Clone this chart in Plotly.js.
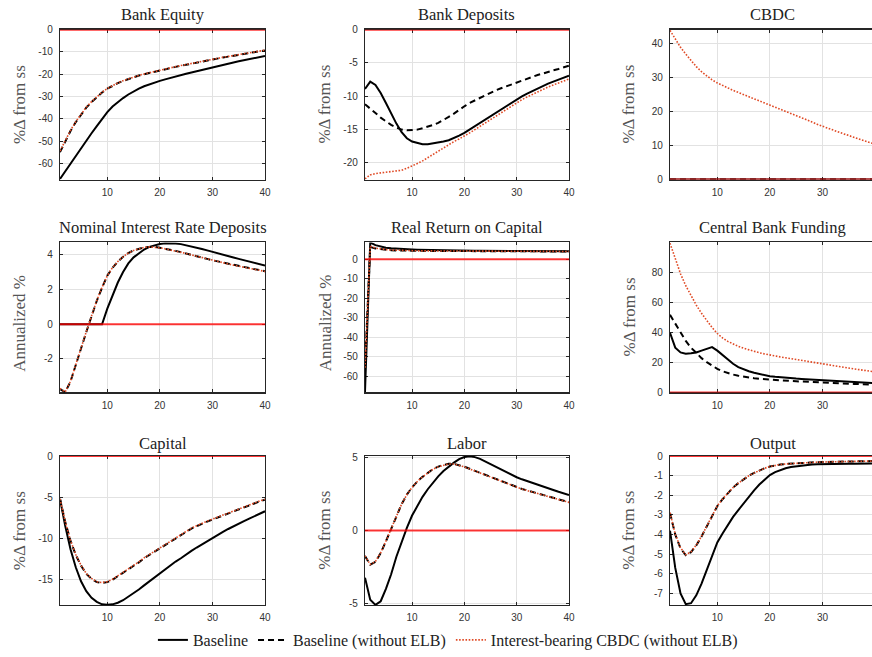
<!DOCTYPE html>
<html>
<head>
<meta charset="utf-8">
<script src="https://cdn.plot.ly/plotly-3.0.1.min.js"></script>
<style>
html,body{margin:0;padding:0;overflow:hidden;background:#fff;}
#chart{width:880px;height:657px;}
#chart .cartesianlayer .plot{clip-path:none !important;}
</style>
</head>
<body>
<div id="chart"></div>
<script>
// ---------- DATA ----------
const periods = [1,2,3,4,5,6,7,8,9,10,11,12,13,14,15,16,17,18,19,20,21,22,23,24,25,26,27,28,29,30,31,32,33,34,35,36,37,38,39,40];
const seriesNames = ["Baseline", "Baseline (without ELB)", "Interest-bearing CBDC (without ELB)"];
const panelTitles = ["Bank Equity","Bank Deposits","CBDC","Nominal Interest Rate Deposits","Real Return on Capital","Central Bank Funding","Capital","Labor","Output"];
const yTitles = ["%Δ from ss","%Δ from ss","%Δ from ss","Annualized %","Annualized %","%Δ from ss","%Δ from ss","%Δ from ss","%Δ from ss"];
const zeroLineX = [1, 40];
const zeroLineY = [0, 0];
const xTickVals = [10,20,30,40];
const xTickText = ["10","20","30","40"];

// Bank Equity
const equityBase = [-67,-63.5,-60,-56.5,-53,-49.5,-46.5,-43.3,-40.1,-37,-34.5,-32.5,-30.7,-29.1,-27.7,-26.5,-25.4,-24.5,-23.7,-23.0,-22.3,-21.6,-21.0,-20.4,-19.8,-19.2,-18.6,-18.0,-17.4,-16.8,-16.3,-15.8,-15.2,-14.7,-14.2,-13.7,-13.2,-12.7,-12.2,-11.8];
const equityNoElb = [-55,-50,-45.5,-41.5,-38,-35,-32.5,-30.3,-28.2,-26.5,-25.1,-24,-23,-22.1,-21.3,-20.6,-20,-19.4,-18.8,-18.2,-17.7,-17.2,-16.7,-16.2,-15.7,-15.2,-14.7,-14.2,-13.7,-13.3,-12.9,-12.5,-12.1,-11.7,-11.3,-10.9,-10.5,-10.1,-9.7,-9.3];
const equityCbdc = [-54.5,-49.6,-45.2,-41.3,-37.8,-34.8,-32.3,-30.1,-28.1,-26.4,-25.0,-23.9,-22.9,-22.0,-21.2,-20.5,-19.9,-19.3,-18.7,-18.1,-17.6,-17.1,-16.6,-16.1,-15.6,-15.1,-14.6,-14.1,-13.6,-13.2,-12.8,-12.4,-12.0,-11.6,-11.2,-10.8,-10.4,-10.0,-9.6,-9.2];
const equityTicks = [-60,-50,-40,-30,-20,-10,0];
const equityTickText = ["-60","-50","-40","-30","-20","-10","0"];

// Bank Deposits
const depositsBase = [-8.9,-7.8,-8.3,-9.5,-11.0,-12.6,-14.1,-15.4,-16.3,-16.8,-17.0,-17.2,-17.2,-17.1,-17.0,-16.8,-16.6,-16.3,-15.9,-15.5,-15.0,-14.5,-14.0,-13.5,-13.0,-12.5,-12.0,-11.4,-10.9,-10.4,-10.0,-9.6,-9.2,-8.8,-8.5,-8.1,-7.8,-7.5,-7.2,-6.9];
const depositsNoElb = [-11.2,-11.8,-12.5,-13.2,-13.8,-14.3,-14.7,-15.0,-15.1,-15.1,-15.0,-14.8,-14.6,-14.3,-14.0,-13.6,-13.1,-12.6,-12.0,-11.5,-11.0,-10.6,-10.2,-9.8,-9.5,-9.1,-8.8,-8.5,-8.2,-7.9,-7.6,-7.3,-7.1,-6.8,-6.6,-6.3,-6.1,-5.9,-5.6,-5.4];
const depositsCbdc = [-22.4,-21.8,-21.6,-21.5,-21.5,-21.4,-21.3,-21.1,-20.8,-20.5,-20.1,-19.7,-19.2,-18.7,-18.2,-17.7,-17.2,-16.8,-16.4,-16.0,-15.5,-15.0,-14.5,-14.0,-13.5,-13.0,-12.5,-12.0,-11.4,-10.9,-10.5,-10.1,-9.7,-9.3,-9.0,-8.6,-8.3,-8.0,-7.7,-7.4];
const depositsTicks = [-20,-15,-10,-5,0];
const depositsTickText = ["-20","-15","-10","-5","0"];

// CBDC
const cbdcBase = [0,0,0,0,0,0,0,0,0,0,0,0,0,0,0,0,0,0,0,0,0,0,0,0,0,0,0,0,0,0,0,0,0,0,0,0,0,0,0,0];
const cbdcNoElb = [0,0,0,0,0,0,0,0,0,0,0,0,0,0,0,0,0,0,0,0,0,0,0,0,0,0,0,0,0,0,0,0,0,0,0,0,0,0,0,0];
const cbdcCbdc = [44,41.5,39,37,35,33.3,31.8,30.5,29.4,28.5,27.7,27.0,26.3,25.7,25.0,24.4,23.8,23.2,22.6,22.0,21.4,20.8,20.2,19.5,18.9,18.3,17.6,17.0,16.3,15.7,15.1,14.6,14.0,13.5,13.0,12.4,11.9,11.4,10.9,10.5];
const cbdcTicks = [0,10,20,30,40];
const cbdcTickText = ["0","10","20","30","40"];

// Nominal Interest Rate Deposits
const nominalBase = [0,0,0,0,0,0,0,0,0,0.9,1.7,2.4,3.0,3.5,3.85,4.1,4.3,4.45,4.55,4.62,4.66,4.67,4.65,4.61,4.55,4.48,4.41,4.33,4.25,4.16,4.08,4.0,3.92,3.84,3.76,3.68,3.61,3.53,3.46,3.38];
const nominalNoElb = [-3.73,-3.92,-3.3,-2.4,-1.4,-0.45,0.5,1.35,2.1,2.8,3.25,3.6,3.88,4.1,4.25,4.35,4.42,4.45,4.45,4.40,4.35,4.29,4.22,4.15,4.08,4.00,3.92,3.84,3.76,3.68,3.61,3.54,3.48,3.41,3.35,3.29,3.23,3.17,3.11,3.05];
const nominalCbdc = [-3.7,-3.9,-3.28,-2.38,-1.38,-0.43,0.52,1.37,2.12,2.8,3.26,3.61,3.88,4.1,4.25,4.35,4.42,4.45,4.44,4.40,4.34,4.28,4.21,4.14,4.07,3.99,3.91,3.83,3.75,3.67,3.60,3.53,3.47,3.40,3.34,3.28,3.22,3.16,3.10,3.04];
const nominalTicks = [-2,0,2,4];
const nominalTickText = ["-2","0","2","4"];

// Real Return on Capital
const returnBase = [-68,8.6,7.3,6.5,6.0,5.7,5.45,5.3,5.15,5.05,4.95,4.87,4.8,4.74,4.69,4.65,4.61,4.58,4.55,4.52,4.49,4.46,4.44,4.42,4.4,4.38,4.36,4.34,4.32,4.3,4.28,4.26,4.24,4.22,4.2,4.18,4.16,4.14,4.12,4.1];
const returnNoElb = [-55,6.3,5.6,5.2,4.9,4.7,4.6,4.5,4.45,4.4,4.37,4.34,4.32,4.3,4.28,4.27,4.26,4.25,4.24,4.23,4.22,4.21,4.2,4.19,4.18,4.17,4.16,4.15,4.14,4.13,4.12,4.11,4.1,4.09,4.08,4.07,4.06,4.05,4.04,4.03];
const returnCbdc = [-55.5,6.7,5.8,5.3,5.0,4.8,4.65,4.55,4.48,4.42,4.38,4.35,4.33,4.31,4.29,4.28,4.27,4.26,4.25,4.24,4.23,4.22,4.21,4.2,4.19,4.18,4.17,4.16,4.15,4.14,4.13,4.12,4.11,4.1,4.09,4.08,4.07,4.06,4.05,4.04];
const returnTicks = [-60,-50,-40,-30,-20,-10,0];
const returnTickText = ["-60","-50","-40","-30","-20","-10","0"];

// Central Bank Funding
const fundingBase = [40,30,26.8,26,26.2,26.8,28,29.3,30.4,28,25,21.8,19.2,17,15.4,14.2,13.2,12.3,11.5,10.9,10.5,10.1,9.8,9.5,9.3,9.1,8.9,8.7,8.5,8.3,8.1,7.9,7.7,7.5,7.3,7.1,6.9,6.7,6.5,6.3];
const fundingNoElb = [52,46,40,34.5,30,26.3,23,20.3,17.8,15.8,14.2,13.0,12.0,11.2,10.5,10.0,9.5,9.1,8.8,8.5,8.3,8.1,7.9,7.7,7.5,7.3,7.15,7.0,6.85,6.7,6.55,6.4,6.2,6.05,5.9,5.75,5.6,5.45,5.3,5.15];
const fundingCbdc = [100,89,79.5,71.5,64.5,58.5,53,48,43.5,39.5,36.5,34.2,32.4,30.9,29.6,28.5,27.5,26.6,25.8,25.0,24.4,23.8,23.2,22.6,22.0,21.4,20.8,20.2,19.5,18.9,18.4,17.9,17.4,16.9,16.3,15.8,15.3,14.8,14.3,13.8];
const fundingTicks = [0,20,40,60,80];
const fundingTickText = ["0","20","40","60","80"];

// Capital
const capitalBase = [-5.2,-8.5,-11.3,-13.5,-15.2,-16.4,-17.2,-17.7,-18.0,-18.05,-18.0,-17.8,-17.5,-17.1,-16.7,-16.2,-15.7,-15.2,-14.7,-14.2,-13.7,-13.3,-12.8,-12.4,-11.9,-11.5,-11.1,-10.7,-10.3,-9.9,-9.55,-9.2,-8.85,-8.5,-8.2,-7.9,-7.6,-7.3,-7.0,-6.7];
const capitalNoElb = [-5.2,-8.0,-10.3,-12.0,-13.3,-14.3,-14.9,-15.3,-15.4,-15.3,-15.0,-14.6,-14.2,-13.8,-13.3,-12.9,-12.4,-12.0,-11.5,-11.1,-10.7,-10.3,-9.9,-9.5,-9.1,-8.8,-8.5,-8.2,-7.95,-7.7,-7.45,-7.2,-6.95,-6.7,-6.45,-6.2,-5.95,-5.7,-5.5,-5.3];
const capitalCbdc = [-5.2,-7.95,-10.25,-11.95,-13.25,-14.25,-14.85,-15.25,-15.35,-15.25,-14.95,-14.55,-14.15,-13.75,-13.25,-12.85,-12.35,-11.95,-11.45,-11.05,-10.65,-10.25,-9.85,-9.45,-9.05,-8.75,-8.45,-8.15,-7.9,-7.65,-7.4,-7.15,-6.9,-6.65,-6.4,-6.15,-5.9,-5.65,-5.45,-5.25];
const capitalTicks = [-15,-10,-5,0];
const capitalTickText = ["-15","-10","-5","0"];

// Labor
const laborBase = [-3.24,-4.75,-5.1,-4.85,-4.0,-3.0,-1.8,-0.75,0.18,1.02,1.7,2.3,2.82,3.27,3.7,4.07,4.38,4.64,4.88,5.03,5.07,5.02,4.9,4.72,4.52,4.33,4.15,3.97,3.8,3.64,3.5,3.37,3.24,3.12,3.0,2.88,2.77,2.65,2.54,2.43];
const laborNoElb = [-1.76,-2.35,-2.15,-1.55,-0.75,0.05,0.95,1.8,2.45,2.95,3.35,3.67,3.95,4.2,4.37,4.48,4.56,4.56,4.48,4.36,4.22,4.08,3.93,3.78,3.63,3.49,3.35,3.21,3.08,2.95,2.84,2.74,2.63,2.53,2.43,2.33,2.23,2.13,2.03,1.93];
const laborCbdc = [-1.74,-2.33,-2.13,-1.53,-0.73,0.07,0.96,1.8,2.45,2.95,3.35,3.67,3.95,4.19,4.36,4.47,4.55,4.55,4.47,4.35,4.21,4.07,3.92,3.77,3.62,3.48,3.34,3.2,3.07,2.94,2.83,2.73,2.62,2.52,2.42,2.32,2.22,2.12,2.02,1.92];
const laborTicks = [-5,0,5];
const laborTickText = ["-5","0","5"];

// Output
const outputBase = [-3.8,-5.7,-7.0,-7.55,-7.5,-7.1,-6.5,-5.8,-5.1,-4.4,-3.95,-3.5,-3.1,-2.75,-2.4,-2.05,-1.75,-1.45,-1.2,-0.97,-0.82,-0.7,-0.62,-0.56,-0.52,-0.48,-0.45,-0.43,-0.42,-0.41,-0.405,-0.4,-0.4,-0.395,-0.39,-0.39,-0.385,-0.38,-0.38,-0.38];
const outputNoElb = [-2.9,-4.0,-4.7,-5.05,-4.9,-4.55,-4.1,-3.6,-3.05,-2.55,-2.2,-1.9,-1.6,-1.38,-1.18,-1.0,-0.86,-0.73,-0.62,-0.53,-0.47,-0.43,-0.4,-0.38,-0.36,-0.34,-0.33,-0.32,-0.31,-0.3,-0.295,-0.29,-0.285,-0.28,-0.275,-0.27,-0.265,-0.26,-0.255,-0.25];
const outputCbdc = [-2.88,-3.98,-4.68,-5.03,-4.88,-4.53,-4.08,-3.58,-3.04,-2.54,-2.19,-1.89,-1.6,-1.38,-1.18,-1.0,-0.86,-0.73,-0.62,-0.53,-0.47,-0.43,-0.4,-0.38,-0.36,-0.34,-0.33,-0.32,-0.31,-0.3,-0.295,-0.29,-0.285,-0.28,-0.275,-0.27,-0.265,-0.26,-0.255,-0.25];
const outputTicks = [-7,-6,-5,-4,-3,-2,-1,0];
const outputTickText = ["-7","-6","-5","-4","-3","-2","-1","0"];

// ---------- LAYOUT / STYLE ----------
const W = 880, H = 657;
const colPx = [[60,265],[365,569],[670,875]];
const rowPx = [[30,181.5],[245,396.7],[461,611.7]];
const titleYPx = [15, 230, 448];
const yTitleXPx = [19.5, 325, 629];

const panels = [
  {base:equityBase, noElb:equityNoElb, cbdc:equityCbdc, range:[-67.3,0], ticks:equityTicks, text:equityTickText},
  {base:depositsBase, noElb:depositsNoElb, cbdc:depositsCbdc, range:[-22.5,0], ticks:depositsTicks, text:depositsTickText},
  {base:cbdcBase, noElb:cbdcNoElb, cbdc:cbdcCbdc, range:[0,44.2], ticks:cbdcTicks, text:cbdcTickText},
  {base:nominalBase, noElb:nominalNoElb, cbdc:nominalCbdc, range:[-3.93,4.71], ticks:nominalTicks, text:nominalTickText},
  {base:returnBase, noElb:returnNoElb, cbdc:returnCbdc, range:[-68.2,8.7], ticks:returnTicks, text:returnTickText},
  {base:fundingBase, noElb:fundingNoElb, cbdc:fundingCbdc, range:[0,100.5], ticks:fundingTicks, text:fundingTickText},
  {base:capitalBase, noElb:capitalNoElb, cbdc:capitalCbdc, range:[-18.1,0], ticks:capitalTicks, text:capitalTickText},
  {base:laborBase, noElb:laborNoElb, cbdc:laborCbdc, range:[-5.12,5.09], ticks:laborTicks, text:laborTickText},
  {base:outputBase, noElb:outputNoElb, cbdc:outputCbdc, range:[-7.6,0], ticks:outputTicks, text:outputTickText}
];

const axisColor = '#262626';
const gridColor = '#e2e2e2';
const tickFont = {family:'Liberation Sans, Arial, sans-serif', size:10, color:'#333'};
const serif = 'Liberation Serif, Times New Roman, serif';

const traces = [];
const layout = {
  width: W, height: H,
  margin: {l:0, r:0, t:0, b:0},
  paper_bgcolor: '#ffffff',
  plot_bgcolor: '#ffffff',
  showlegend: true,
  legend: {
    orientation: 'h', x: 0.509, xanchor: 'center', y: 0.015, yanchor: 'middle',
    font: {family: serif, size: 16, color: '#222'},
    bgcolor: 'rgba(0,0,0,0)', itemwidth: 30, tracegroupgap: 0
  },
  annotations: []
};

panels.forEach((p, i) => {
  const r = Math.floor(i / 3), c = i % 3;
  const sfx = i === 0 ? '' : String(i + 1);
  const xa = 'x' + sfx, ya = 'y' + sfx;
  layout['xaxis' + sfx] = {
    domain: [colPx[c][0] / W, colPx[c][1] / W],
    anchor: ya, range: [1, 40],
    tickvals: xTickVals, ticktext: xTickText,
    ticks: 'inside', ticklen: 3, tickwidth: 1, tickcolor: axisColor,
    showline: true, mirror: 'ticks', linecolor: axisColor, linewidth: 1.2,
    showgrid: true, gridcolor: gridColor, gridwidth: 1, zeroline: false,
    layer: 'below traces', ticklabelstandoff: 3,
    tickfont: tickFont, fixedrange: true
  };
  layout['yaxis' + sfx] = {
    domain: [1 - rowPx[r][1] / H, 1 - rowPx[r][0] / H],
    anchor: xa, range: p.range,
    tickvals: p.ticks, ticktext: p.text,
    ticks: 'inside', ticklen: 3, tickwidth: 1, tickcolor: axisColor,
    showline: true, mirror: 'ticks', linecolor: axisColor, linewidth: 1.2,
    showgrid: true, gridcolor: gridColor, gridwidth: 1, zeroline: false,
    layer: 'below traces',
    tickfont: tickFont, ticklabelstandoff: 4, fixedrange: true
  };
  const first = i === 0;
  traces.push({x: periods, y: p.base, xaxis: xa, yaxis: ya, mode: 'lines', name: seriesNames[0],
    legendgroup: 'a', showlegend: first, line: {color: '#000000', width: 2}, hoverinfo: 'skip'});
  traces.push({x: periods, y: p.noElb, xaxis: xa, yaxis: ya, mode: 'lines', name: seriesNames[1],
    legendgroup: 'b', showlegend: first, line: {color: '#000000', width: 2, dash: '6px,4px'}, hoverinfo: 'skip'});
  traces.push({x: periods, y: p.cbdc, xaxis: xa, yaxis: ya, mode: 'lines', name: seriesNames[2],
    legendgroup: 'c', showlegend: first, line: {color: '#e04a25', width: 1.6, dash: '1.6px,1.6px'}, hoverinfo: 'skip'});
  traces.push({x: zeroLineX, y: zeroLineY, xaxis: xa, yaxis: ya, mode: 'lines', name: 'ss',
    showlegend: false, line: {color: 'rgba(255,0,0,0.78)', width: 2}, hoverinfo: 'skip'});

  layout.annotations.push({
    text: panelTitles[i], xref: 'paper', yref: 'paper',
    x: (colPx[c][0] + colPx[c][1]) / 2 / W, y: 1 - titleYPx[r] / H,
    xanchor: 'center', yanchor: 'middle', showarrow: false,
    font: {family: serif, size: 16.5, color: '#222'}
  });
  const isAnn = yTitles[i] === 'Annualized %';
  layout.annotations.push({
    text: yTitles[i], xref: 'paper', yref: 'paper', textangle: -90,
    x: yTitleXPx[c] / W,
    y: 1 - ((rowPx[r][0] + rowPx[r][1]) / 2 + (isAnn ? 6 : 0)) / H,
    xanchor: 'center', yanchor: 'middle', showarrow: false,
    font: {family: serif, size: 17, color: '#555'}
  });
});

Plotly.newPlot('chart', traces, layout, {displayModeBar: false, staticPlot: true});
</script>
</body>
</html>
